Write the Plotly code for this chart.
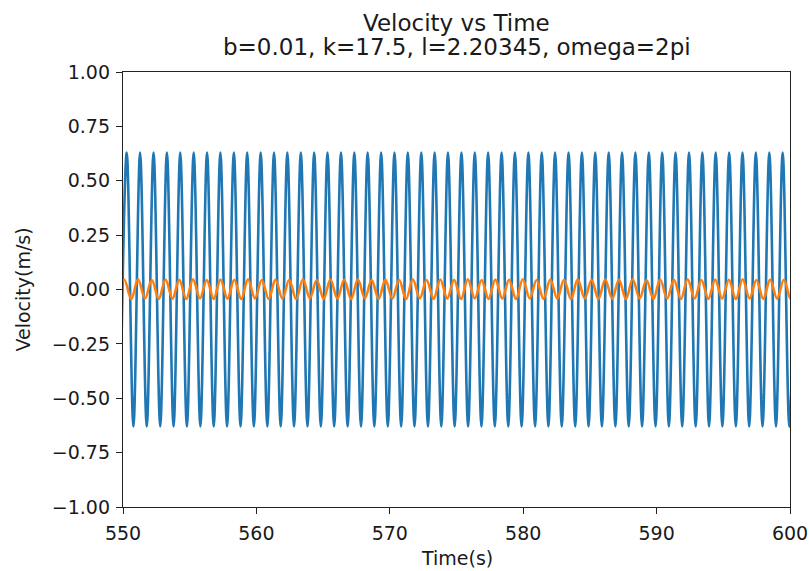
import plotly.graph_objects as go

# Blue series: times and values of each crest and trough
blue_peak_t = [550.28, 551.28, 552.29, 553.29, 554.29, 555.30, 556.30, 557.30, 558.31, 559.31,
               560.32, 561.32, 562.32, 563.33, 564.33, 565.33, 566.34, 567.34, 568.34, 569.35,
               570.35, 571.35, 572.36, 573.36, 574.36, 575.37, 576.37, 577.37, 578.38, 579.38,
               580.39, 581.39, 582.39, 583.40, 584.40, 585.40, 586.41, 587.41, 588.41, 589.42,
               590.42, 591.42, 592.43, 593.43, 594.43, 595.44, 596.44, 597.44, 598.45, 599.45,
               600.45]
blue_peak_v = [0.63, 0.63, 0.63, 0.63, 0.63, 0.63, 0.63, 0.63, 0.63, 0.63,
               0.63, 0.63, 0.63, 0.63, 0.63, 0.63, 0.63, 0.63, 0.63, 0.63,
               0.63, 0.63, 0.63, 0.63, 0.63, 0.63, 0.63, 0.63, 0.63, 0.63,
               0.63, 0.63, 0.63, 0.63, 0.63, 0.63, 0.63, 0.63, 0.63, 0.63,
               0.63, 0.63, 0.63, 0.63, 0.63, 0.63, 0.63, 0.63, 0.63, 0.63,
               0.63]
blue_trough_t = [549.78, 550.78, 551.78, 552.79, 553.79, 554.79, 555.80, 556.80, 557.80, 558.81,
                 559.81, 560.82, 561.82, 562.82, 563.83, 564.83, 565.83, 566.84, 567.84, 568.84,
                 569.85, 570.85, 571.85, 572.86, 573.86, 574.86, 575.87, 576.87, 577.87, 578.88,
                 579.88, 580.89, 581.89, 582.89, 583.90, 584.90, 585.90, 586.91, 587.91, 588.91,
                 589.92, 590.92, 591.92, 592.93, 593.93, 594.93, 595.94, 596.94, 597.94, 598.95,
                 599.95]
blue_trough_v = [-0.63, -0.63, -0.63, -0.63, -0.63, -0.63, -0.63, -0.63, -0.63, -0.63,
                 -0.63, -0.63, -0.63, -0.63, -0.63, -0.63, -0.63, -0.63, -0.63, -0.63,
                 -0.63, -0.63, -0.63, -0.63, -0.63, -0.63, -0.63, -0.63, -0.63, -0.63,
                 -0.63, -0.63, -0.63, -0.63, -0.63, -0.63, -0.63, -0.63, -0.63, -0.63,
                 -0.63, -0.63, -0.63, -0.63, -0.63, -0.63, -0.63, -0.63, -0.63, -0.63,
                 -0.63]

# Orange series: crests and troughs
orange_peak_t = [550.10, 551.13, 552.16, 553.19, 554.22, 555.25, 556.28, 557.31, 558.34, 559.37,
                 560.40, 561.43, 562.46, 563.49, 564.52, 565.55, 566.58, 567.61, 568.64, 569.67,
                 570.70, 571.73, 572.76, 573.79, 574.82, 575.85, 576.88, 577.91, 578.94, 579.97,
                 581.00, 582.03, 583.06, 584.09, 585.12, 586.15, 587.18, 588.21, 589.24, 590.27,
                 591.30, 592.33, 593.36, 594.39, 595.42, 596.45, 597.48, 598.51, 599.54, 600.57]
orange_peak_v = [0.045, 0.047, 0.044, 0.046, 0.045, 0.047, 0.044, 0.046, 0.045, 0.047,
                 0.044, 0.046, 0.045, 0.047, 0.044, 0.046, 0.045, 0.047, 0.044, 0.046,
                 0.045, 0.047, 0.044, 0.046, 0.045, 0.047, 0.044, 0.046, 0.045, 0.047,
                 0.044, 0.046, 0.045, 0.047, 0.044, 0.046, 0.045, 0.047, 0.044, 0.046,
                 0.045, 0.047, 0.044, 0.046, 0.045, 0.047, 0.044, 0.046, 0.045, 0.047]
orange_trough_t = [549.59, 550.62, 551.65, 552.68, 553.71, 554.74, 555.77, 556.80, 557.83, 558.86,
                   559.89, 560.92, 561.95, 562.98, 564.01, 565.04, 566.07, 567.10, 568.13, 569.16,
                   570.19, 571.22, 572.25, 573.28, 574.31, 575.34, 576.37, 577.40, 578.43, 579.46,
                   580.49, 581.52, 582.55, 583.58, 584.61, 585.64, 586.67, 587.70, 588.73, 589.76,
                   590.79, 591.82, 592.85, 593.88, 594.91, 595.94, 596.97, 598.00, 599.03, 600.06]
orange_trough_v = [-0.042, -0.044, -0.041, -0.043, -0.042, -0.044, -0.041, -0.043, -0.042, -0.044,
                   -0.041, -0.043, -0.042, -0.044, -0.041, -0.043, -0.042, -0.044, -0.041, -0.043,
                   -0.042, -0.044, -0.041, -0.043, -0.042, -0.044, -0.041, -0.043, -0.042, -0.044,
                   -0.041, -0.043, -0.042, -0.044, -0.041, -0.043, -0.042, -0.044, -0.041, -0.043,
                   -0.042, -0.044, -0.041, -0.043, -0.042, -0.044, -0.041, -0.043, -0.042, -0.044]

x_ticks = [550, 560, 570, 580, 590, 600]
y_ticks = [-1.00, -0.75, -0.50, -0.25, 0.00, 0.25, 0.50, 0.75, 1.00]

title_line1 = "Velocity vs Time"
title_line2 = "b=0.01, k=17.5, l=2.20345, omega=2pi"
x_label = "Time(s)"
y_label = "Velocity(m/s)"


def merge(t1, v1, t2, v2):
    pts = sorted(zip(t1 + t2, v1 + v2))
    return [p[0] for p in pts], [p[1] for p in pts]


bt, bv = merge(blue_peak_t, blue_peak_v, blue_trough_t, blue_trough_v)
ot, ov = merge(orange_peak_t, orange_peak_v, orange_trough_t, orange_trough_v)

FONT = "DejaVu Sans"
TXT = "#1a1a1a"

fig = go.Figure()
fig.add_trace(go.Scatter(x=bt, y=bv, mode="lines",
                         line=dict(color="#1f77b4", width=2.6, shape="spline"),
                         showlegend=False))
fig.add_trace(go.Scatter(x=ot, y=ov, mode="lines",
                         line=dict(color="#ff7f0e", width=2.6, shape="spline"),
                         showlegend=False))

axis_common = dict(showline=True, linecolor="#222222", linewidth=1.4, mirror=True,
                   ticks="outside", ticklen=6, tickwidth=1.3, tickcolor="#222222",
                   showgrid=False, zeroline=False, automargin=False,
                   tickfont=dict(family=FONT, size=19, color=TXT))

fig.update_layout(
    width=809, height=571,
    margin=dict(l=123, r=19, t=72, b=64),
    paper_bgcolor="white", plot_bgcolor="white",
    xaxis=dict(range=[550, 600], tickvals=x_ticks, ticktext=[str(v) for v in x_ticks],
               ticklabelstandoff=3, **axis_common),
    yaxis=dict(range=[-1, 1], tickvals=y_ticks,
               ticktext=[("\u2212" if v < 0 else "") + f"{abs(v):.2f}" for v in y_ticks],
               ticklabelstandoff=2, **axis_common),
    annotations=[
        dict(text=title_line1, xref="paper", x=0.5, yref="paper", y=1, yshift=49,
             xanchor="center", yanchor="middle", showarrow=False,
             font=dict(family=FONT, size=23, color=TXT)),
        dict(text=title_line2, xref="paper", x=0.5, yref="paper", y=1, yshift=25,
             xanchor="center", yanchor="middle", showarrow=False,
             font=dict(family=FONT, size=23, color=TXT)),
        dict(text=x_label, xref="paper", x=0.5, yref="paper", y=0, yshift=-51,
             xanchor="center", yanchor="middle", showarrow=False,
             font=dict(family=FONT, size=19, color=TXT)),
        dict(text=y_label, xref="paper", x=0, xshift=-101, yref="paper", y=0.5,
             xanchor="center", yanchor="middle", textangle=-90, showarrow=False,
             font=dict(family=FONT, size=19, color=TXT)),
    ],
)

fig.write_html("out.html",
               config={"displayModeBar": False},
               post_script="document.body.style.margin='0';document.body.style.overflow='hidden';")
